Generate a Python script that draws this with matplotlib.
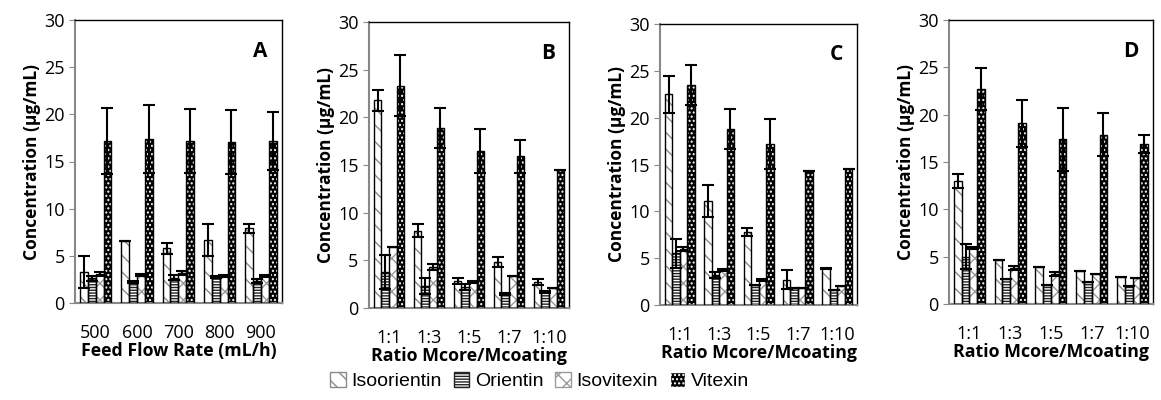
import numpy as np
import matplotlib.pyplot as plt
from matplotlib.patches import Patch

plt.rcParams['font.family'] = ['Open Sans', 'DejaVu Sans']
plt.rcParams['hatch.linewidth'] = 1.0

compounds = ['Isoorientin', 'Orientin', 'Isovitexin', 'Vitexin']
flow_labels = ['500', '600', '700', '800', '900']
ratio_labels = ['1:1', '1:3', '1:5', '1:7', '1:10']

# panel A: feed flow rate
a_mean = [[3.3, 6.6, 5.8, 6.7, 7.9],
          [2.6, 2.2, 2.7, 2.8, 2.3],
          [3.1, 3.0, 3.2, 2.9, 2.9],
          [17.2, 17.4, 17.2, 17.1, 17.2]]
a_err = [[1.7, 0.0, 0.6, 1.7, 0.5],
         [0.3, 0.1, 0.3, 0.1, 0.2],
         [0.2, 0.1, 0.2, 0.1, 0.1],
         [3.5, 3.6, 3.4, 3.4, 3.1]]

# panel B
b_mean = [[21.8, 8.1, 2.8, 4.8, 2.7],
          [3.8, 2.3, 2.2, 1.5, 1.7],
          [6.4, 4.3, 2.7, 3.4, 2.1],
          [23.3, 18.9, 16.5, 15.9, 14.5]]
b_err = [[1.1, 0.7, 0.3, 0.5, 0.3],
         [1.8, 0.8, 0.3, 0.1, 0.1],
         [0.0, 0.3, 0.1, 0.0, 0.0],
         [3.2, 2.1, 2.3, 1.7, 0.0]]

# panel C
c_mean = [[22.5, 11.1, 7.8, 2.7, 3.9],
          [5.5, 3.2, 2.1, 1.8, 1.6],
          [6.0, 3.7, 2.7, 1.8, 2.0],
          [23.5, 18.8, 17.2, 14.3, 14.5]]
c_err = [[2.0, 1.7, 0.4, 1.0, 0.1],
         [1.5, 0.3, 0.0, 0.0, 0.0],
         [0.2, 0.1, 0.1, 0.0, 0.0],
         [2.1, 2.1, 2.7, 0.0, 0.0]]

# panel D
d_mean = [[13.0, 4.7, 3.9, 3.5, 2.9],
          [5.0, 2.6, 2.0, 2.3, 1.9],
          [5.9, 3.8, 3.2, 3.2, 2.7],
          [22.7, 19.1, 17.4, 17.9, 16.9]]
d_err = [[0.7, 0.0, 0.0, 0.0, 0.0],
         [1.3, 0.0, 0.0, 0.0, 0.0],
         [0.1, 0.2, 0.2, 0.0, 0.0],
         [2.2, 2.5, 3.3, 2.3, 1.0]]

# style for each compound: face, hatch, hatch colour
styles = [('white', '\\\\', '#8a8a8a'),
          ('white', '------', '#222222'),
          ('white', 'xx', '#9a9a9a'),
          ('black', '....', 'white')]

panels = [
    ('A', flow_labels, a_mean, a_err, 'Feed Flow Rate (mL/h)', [0.0646, 0.2425, 0.178, 0.7075]),
    ('B', ratio_labels, b_mean, b_err, 'Ratio Mcore/Mcoating', [0.3178, 0.23, 0.1723, 0.715]),
    ('C', ratio_labels, c_mean, c_err, 'Ratio Mcore/Mcoating', [0.5685, 0.2375, 0.1697, 0.7025]),
    ('D', ratio_labels, d_mean, d_err, 'Ratio Mcore/Mcoating', [0.8174, 0.24, 0.1757, 0.71]),
]

fig = plt.figure(figsize=(11.61, 4.0), dpi=100)
width = 0.19
x = np.arange(5)

for letter, labels, means, errs, xlabel, pos in panels:
    ax = fig.add_axes(pos)
    for k in range(4):
        face, hatch, hcol = styles[k]
        xs = x + (k - 1.5) * width
        ax.bar(xs, means[k], width, color=face, hatch=hatch, edgecolor=hcol, linewidth=0, zorder=2)
        ax.bar(xs, means[k], width, fill=False, edgecolor='black', linewidth=1.0, zorder=3)
        ax.errorbar(xs, means[k], yerr=errs[k], fmt='none', ecolor='black',
                    elinewidth=1.5, capsize=4, capthick=1.5, zorder=4)
    ax.set_xlim(-0.5, 4.5)
    ax.set_ylim(0, 30)
    ax.set_yticks(range(0, 31, 5))
    ax.set_xticks(x)
    ax.set_xticklabels(labels)
    ax.tick_params(axis='x', length=0, pad=15, labelsize=13)
    ax.tick_params(axis='y', length=4, color='#888888', labelsize=13)
    for s in ['left', 'bottom']:
        ax.spines[s].set_color('#888888')
        ax.spines[s].set_linewidth(1.5)
    for s in ['top', 'right']:
        ax.spines[s].set_color('black')
        ax.spines[s].set_linewidth(1.0)
    ax.set_ylabel('Concentration (µg/mL)', fontsize=12.5, fontweight='bold', labelpad=2)
    ax.set_xlabel(xlabel, fontsize=12.8, fontweight='bold', labelpad=0)
    ax.text(0.93, 0.89, letter, transform=ax.transAxes, ha='right', va='center',
            fontsize=15, fontweight='bold')

handles = [Patch(facecolor=styles[k][0], hatch=styles[k][1], edgecolor=styles[k][2])
           for k in range(4)]
fig.legend(handles, compounds, loc='lower center', bbox_to_anchor=(0.465, -0.02), ncol=4,
           frameon=False, prop={'family': 'Liberation Sans', 'size': 14},
           handlelength=0.8, handleheight=0.8, handletextpad=0.3, columnspacing=0.6)

fig.savefig('out.png', dpi=100)
